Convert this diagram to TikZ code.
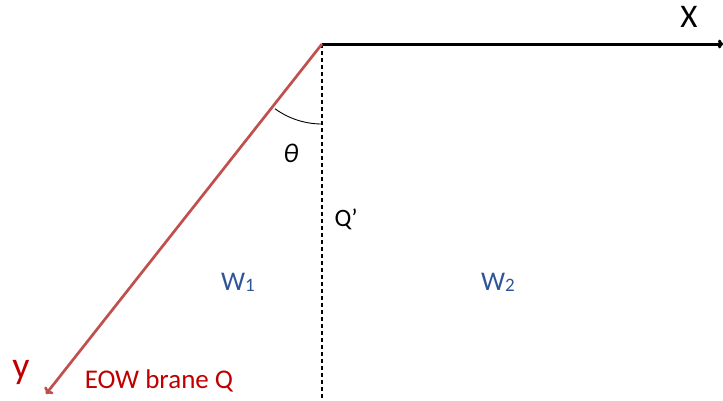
\documentclass[tikz,border=0pt]{standalone}
\usepackage{fontspec}
\setmainfont{Carlito}
\usetikzlibrary{arrows.meta}
\definecolor{braneline}{RGB}{192,80,77}
\definecolor{branetext}{RGB}{192,0,0}
\definecolor{wedgeblue}{RGB}{47,85,151}
\newcommand{\px}[1]{\fontsize{#1}{#1}\selectfont}
\begin{document}
\begin{tikzpicture}[x=1pt, y=-1pt]
	\useasboundingbox (0,0) rectangle (723,400);
	\coordinate (O) at (322,44);
	\coordinate (xend) at (723,44);
	\coordinate (yend) at (46,394);
	\coordinate (qbot) at (322,400);
	\draw[line width=1.1pt, dash pattern=on 4pt off 3pt] (O) -- (qbot);
	\draw[line width=3pt, -{To[length=5pt,width=9pt]}] (O) -- (xend);
	\draw[braneline, line width=2.7pt, -{To[length=6pt,width=11pt]}] (O) -- (yend);
	\draw[line width=0.9pt] ([shift={(126:80)}]O) arc[start angle=126, end angle=90, radius=80] -- ++(0,0);
	\node (theta) at (291,153) {\px{27}\itshape θ};
	\node (xlab) at (689,17) {\px{33}X};
	\node[branetext] (ylab) at (21,372) {\px{38}y};
	\node[branetext] (eow) at (159,381) {\px{27}EOW brane Q};
	\node[anchor=west] (qprime) at (331,219) {\px{25}Q’};
	\node[wedgeblue] (w1) at (238,282) {\px{27}W\raisebox{-1pt}{\px{19}1}};
	\node[wedgeblue] (w2) at (498,282) {\px{27}W\raisebox{-1pt}{\px{19}2}};
\end{tikzpicture}
\end{document}
